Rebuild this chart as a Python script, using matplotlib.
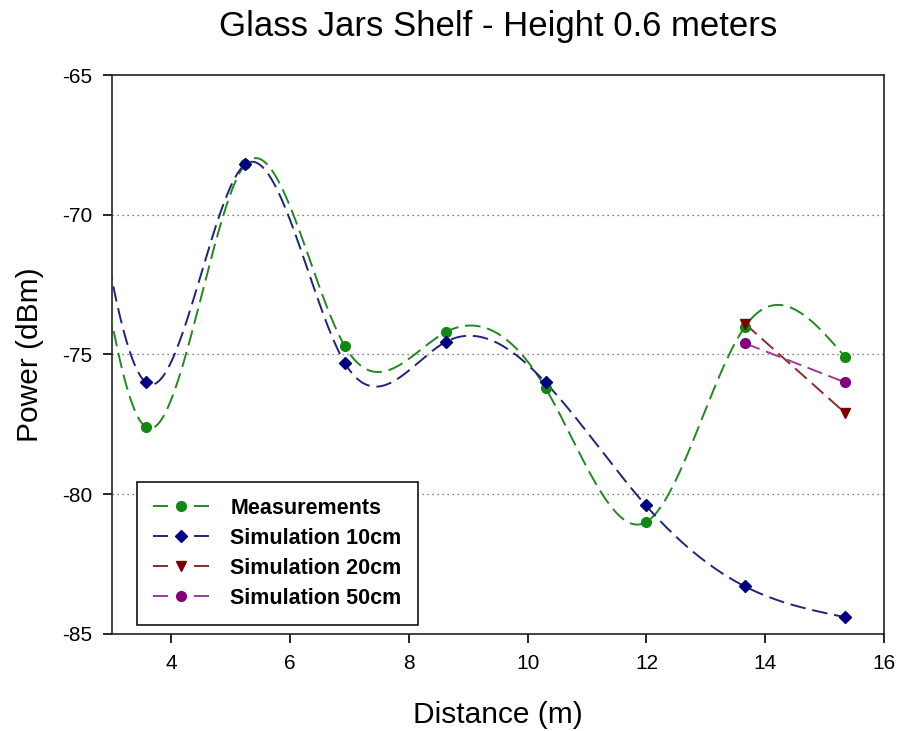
import numpy as np
import matplotlib
matplotlib.use("Agg")
import matplotlib.pyplot as plt
from matplotlib.lines import Line2D

plt.rcParams['font.family'] = ['Liberation Sans', 'DejaVu Sans']
plt.rcParams['axes.unicode_minus'] = False

# distance of each receiver position (m); the first one lies left of the shown range
distance = [1.89, 3.57, 5.24, 6.92, 8.62, 10.30, 11.99, 13.66, 15.35]
measurements = [-56.0, -77.6, -68.2, -74.7, -74.2, -76.2, -81.0, -74.0, -75.1]
sim_10cm = [-55.5, -76.0, -68.2, -75.3, -74.55, -76.0, -80.4, -83.3, -84.4]
dist_far = [13.66, 15.35]
sim_20cm = [-73.9, -77.1]
sim_50cm = [-74.6, -76.0]


def natural_spline(x, y, n=400):
    x = np.asarray(x, float)
    y = np.asarray(y, float)
    k = len(x)
    if k < 3:
        return x, y
    h = np.diff(x)
    A = np.zeros((k, k))
    b = np.zeros(k)
    A[0, 0] = A[-1, -1] = 1
    for i in range(1, k - 1):
        A[i, i - 1] = h[i - 1]
        A[i, i] = 2 * (h[i - 1] + h[i])
        A[i, i + 1] = h[i]
        b[i] = 6 * ((y[i + 1] - y[i]) / h[i] - (y[i] - y[i - 1]) / h[i - 1])
    M = np.linalg.solve(A, b)
    xs = np.linspace(x[0], x[-1], n)
    idx = np.clip(np.searchsorted(x, xs) - 1, 0, k - 2)
    x0, x1 = x[idx], x[idx + 1]
    hh = x1 - x0
    t0, t1 = x1 - xs, xs - x0
    ys = (M[idx] * t0 ** 3 / (6 * hh) + M[idx + 1] * t1 ** 3 / (6 * hh)
          + (y[idx] / hh - M[idx] * hh / 6) * t0
          + (y[idx + 1] / hh - M[idx + 1] * hh / 6) * t1)
    return xs, ys


fig = plt.figure(figsize=(8.99, 7.31), dpi=100)
ax = fig.add_axes([0.1246, 0.1327, 0.8587, 0.7647])

series = [
    (distance, measurements, '#1f8a1f', '#118811', 'o', 'Measurements'),
    (distance, sim_10cm, '#22227a', '#000080', 'D', 'Simulation 10cm'),
    (dist_far, sim_20cm, '#8a2a2a', '#7a0000', 'v', 'Simulation 20cm'),
    (dist_far, sim_50cm, '#9a3a9a', '#800080', 'o', 'Simulation 50cm'),
]

handles = []
for xs, ys, lc, mc, mk, lab in series:
    sx, sy = natural_spline(xs, ys)
    ax.plot(sx, sy, color=lc, lw=1.4, dashes=(8, 3.5), zorder=3)
    ms = 6 if mk == 'D' else 7
    ax.plot(xs, ys, ls='none', marker=mk, color=mc, ms=ms, zorder=4)
    # dash - marker - dash in the legend sample
    handles.append(Line2D([], [], color=lc, lw=1.4, dashes=(7.7, 13.4),
                          marker=mk, markerfacecolor=mc, markeredgecolor=mc,
                          ms=ms, label=lab))

ax.set_xlim(3, 16)
ax.set_ylim(-85, -65)
ax.set_xticks([4, 6, 8, 10, 12, 14, 16])
ax.set_yticks([-85, -80, -75, -70, -65])
for yv in [-80, -75, -70]:
    ax.axhline(yv, color='#555555', lw=0.9, ls=(0, (1, 3)), zorder=1)

for sp in ax.spines.values():
    sp.set_linewidth(1.2)
    sp.set_color('#222222')
ax.tick_params(direction='out', length=6.5, width=1.2, labelsize=15, pad=8,
               top=False, right=False)

ax.set_title('Glass Jars Shelf - Height 0.6 meters', fontsize=25, pad=28)
ax.set_xlabel('Distance (m)', fontsize=21.5, labelpad=20)
ax.set_ylabel('Power (dBm)', fontsize=21.5, labelpad=13)

leg = ax.legend(handles=handles, loc='lower left',
                bbox_to_anchor=(0.032, 0.016), borderaxespad=0,
                fancybox=False, framealpha=1, edgecolor='black',
                handlelength=2.6, borderpad=0.75, labelspacing=0.42,
                handletextpad=1.0, prop={'weight': 'bold', 'size': 15.5})
leg.get_frame().set_linewidth(1.1)

fig.savefig('out.png', dpi=100)
